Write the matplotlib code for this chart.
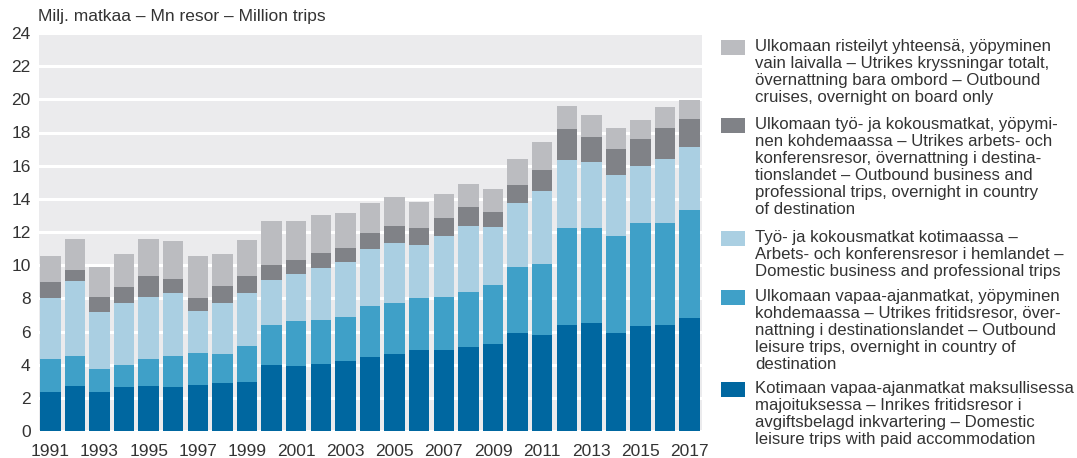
import matplotlib
matplotlib.use("Agg")
import matplotlib.pyplot as plt
from matplotlib.patches import Rectangle
import numpy as np

plt.rcParams['font.family'] = ['Liberation Sans', 'DejaVu Sans']

# ── DATA ────────────────────────────────────────────────────────────
years = list(range(1991, 2018))

# cumulative tops, per stack level (bottom -> top)
domestic_leisure = [2.35, 2.71, 2.35, 2.63, 2.71, 2.63, 2.77, 2.89, 2.95, 3.98,
                    3.92, 4.04, 4.22, 4.48, 4.64, 4.86, 4.86, 5.07, 5.23, 5.91,
                    5.79, 6.39, 6.53, 5.91, 6.35, 6.39, 6.81]
top_outbound_leisure = [4.32, 4.54, 3.72, 3.96, 4.36, 4.50, 4.70, 4.64, 5.11, 6.39,
                        6.61, 6.67, 6.85, 7.54, 7.74, 8.02, 8.08, 8.40, 8.82, 9.87,
                        10.09, 12.22, 12.26, 11.76, 12.52, 12.52, 13.33]
top_domestic_business = [8.02, 9.03, 7.16, 7.70, 8.08, 8.32, 7.24, 7.70, 8.30, 9.13,
                         9.45, 9.81, 10.19, 10.97, 11.34, 11.22, 11.76, 12.36, 12.30, 13.75,
                         14.47, 16.36, 16.24, 15.42, 15.98, 16.40, 17.13]
top_outbound_business = [8.98, 9.69, 8.08, 8.68, 9.33, 9.17, 8.04, 8.72, 9.33, 9.99,
                         10.29, 10.71, 11.06, 11.94, 12.38, 12.22, 12.82, 13.49, 13.19, 14.85,
                         15.72, 18.19, 17.71, 16.98, 17.59, 18.27, 18.79]
top_cruises = [10.53, 11.58, 9.89, 10.67, 11.58, 11.44, 10.57, 10.69, 11.50, 12.64,
               12.64, 13.01, 13.17, 13.75, 14.13, 13.83, 14.29, 14.89, 14.57, 16.42,
               17.45, 19.60, 19.08, 18.27, 18.73, 19.54, 19.94]

labels = [
    "Ulkomaan risteilyt yhteensä, yöpyminen\nvain laivalla – Utrikes kryssningar totalt,\n"
    "övernattning bara ombord – Outbound\ncruises, overnight on board only",
    "Ulkomaan työ- ja kokousmatkat, yöpymi-\nnen kohdemaassa – Utrikes arbets- och\n"
    "konferensresor, övernattning i destina-\ntionslandet – Outbound business and\n"
    "professional trips, overnight in country\nof destination",
    "Työ- ja kokousmatkat kotimaassa –\nArbets- och konferensresor i hemlandet –\n"
    "Domestic business and professional trips",
    "Ulkomaan vapaa-ajanmatkat, yöpyminen\nkohdemaassa – Utrikes fritidsresor, över-\n"
    "nattning i destinationslandet – Outbound\nleisure trips, overnight in country of\ndestination",
    "Kotimaan vapaa-ajanmatkat maksullisessa\nmajoituksessa – Inrikes fritidsresor i\n"
    "avgiftsbelagd inkvartering – Domestic\nleisure trips with paid accommodation",
]
# ────────────────────────────────────────────────────────────────────

colors = ["#BBBCC0", "#808287", "#AACFE2", "#3FA0C8", "#0067A0"]  # top -> bottom
TEXT = "#333333"

tops = [domestic_leisure, top_outbound_leisure, top_domestic_business,
        top_outbound_business, top_cruises]

fig = plt.figure(figsize=(10.77, 4.58), dpi=100)
ax = fig.add_axes([39 / 1077, 1 - 431 / 458, 663 / 1077, 398 / 458])
ax.set_facecolor("#EBEBED")

x = np.arange(len(years))
prev = np.zeros(len(years))
for i, t in enumerate(tops):
    t = np.array(t)
    ax.bar(x, t - prev, bottom=prev, width=0.83, color=colors[4 - i],
           linewidth=0, zorder=3)
    prev = t

ax.set_ylim(0, 24)
ax.set_xlim(-0.46, 26.5)
ax.set_yticks(range(0, 25, 2))
ax.yaxis.grid(True, color="white", linewidth=2.2, zorder=1)
ax.set_axisbelow(True)
ax.set_xticks(x[::2])
ax.set_xticklabels([str(y) for y in years[::2]])
ax.tick_params(axis="both", length=0, labelsize=12.5, colors=TEXT)
ax.tick_params(axis="x", pad=9)
ax.tick_params(axis="y", pad=6)
for s in ax.spines.values():
    s.set_visible(False)

fig.text(38 / 1077, 1 - 17 / 458, "Milj. matkaa – Mn resor – Million trips",
         fontsize=12.5, color=TEXT, va="center", ha="left")

# legend drawn by hand to keep the original line breaks
patch_tops = [40, 118, 231, 290, 382]
for lab, col, pt in zip(labels, colors, patch_tops):
    fig.patches.append(Rectangle((721 / 1077, 1 - (pt + 15) / 458), 24 / 1077, 15 / 458,
                                 transform=fig.transFigure, color=col, linewidth=0))
    fig.text(755 / 1077, 1 - (pt - 1) / 458, lab, fontsize=12.1, color=TEXT,
             va="top", ha="left", linespacing=1.17)

fig.savefig("out.png", dpi=100)
